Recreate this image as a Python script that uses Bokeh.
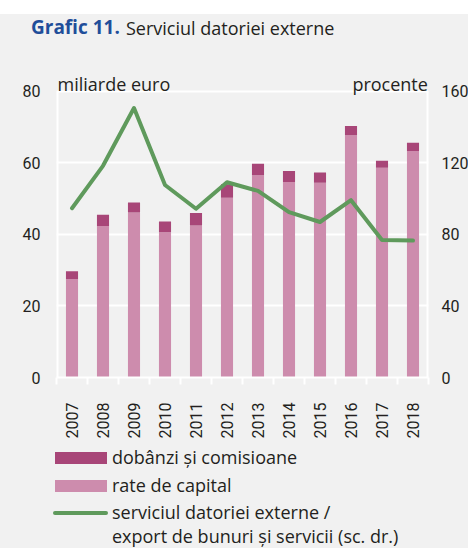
from math import pi
from bokeh.plotting import figure
from bokeh.layouts import column
from bokeh.models import Range1d, LinearAxis, FixedTicker, ColumnDataSource, Div
from bokeh.core.properties import value
from bokeh.embed import file_html
from bokeh.resources import INLINE

# ---- data ----
years = [2007, 2008, 2009, 2010, 2011, 2012, 2013, 2014, 2015, 2016, 2017, 2018]
year_labels = [str(y) for y in years]
capital = [27.5, 42.3, 46.1, 40.6, 42.5, 50.2, 56.5, 54.6, 54.4, 67.7, 58.6, 63.3]
total = [29.7, 45.5, 48.9, 43.6, 46.0, 54.0, 59.7, 57.7, 57.3, 70.3, 60.6, 65.6]
interest = [round(t - c, 2) for t, c in zip(total, capital)]
ratio = [94.6, 118.3, 150.6, 107.6, 94.3, 109.1, 104.3, 92.4, 86.9, 99.1, 76.9, 76.5]
left_ticks = [0, 20, 40, 60, 80]
right_ticks = [0, 40, 80, 120, 160]
left_max, right_max = 80, 160

title_bold = "Grafic 11."
title_text = "Serviciul datoriei externe"
left_unit = "miliarde euro"
right_unit = "procente"
legend_labels = ["dobânzi și comisioane", "rate de capital",
                 "serviciul datoriei externe /", "export de bunuri și servicii (sc. dr.)"]

# ---- style ----
BG = "#f1f1f1"
CAP = "#cd8cad"
INT = "#a84678"
GREEN = "#5f9a5c"
TXT = "#231f20"
BLUE = "#1f4e9a"
FONT = "Open Sans"
NUMF = "Roboto"
W = 468

# ---- title (HTML strip) ----
TH = 45
title_html = (
    f'<div style="position:relative;width:{W}px;height:{TH}px;background:white;overflow:hidden;">'
    f'<div style="position:absolute;left:0;top:14px;width:{W}px;height:{TH-14}px;background:{BG};"></div>'
    f'<span style="position:absolute;left:31px;top:18px;line-height:19px;font-family:\'{FONT}\';'
    f'font-size:19px;font-weight:bold;color:{BLUE};white-space:nowrap;">{title_bold}</span>'
    f'<span style="position:absolute;left:126px;top:19px;line-height:18px;font-family:\'{FONT}\';'
    f'font-size:18px;color:{TXT};white-space:nowrap;">{title_text}</span>'
    '</div>')
title_div = Div(text=title_html, width=W, height=TH, margin=0)

# ---- main chart ----
FW, FH = 372, 332      # frame size (frame extends above the 80 line to hold unit labels)
BOTTOM = 63            # room for the year labels
px80 = 286.3           # px between 0 and 80
ytop = left_max * FH / px80
source = ColumnDataSource(dict(year=years, capital=capital, interest=interest, ratio=ratio))

p = figure(frame_width=FW, frame_height=FH,
           x_range=Range1d(2006.5, 2018.5), y_range=Range1d(0, ytop),
           output_backend="svg", toolbar_location=None, title=None,
           min_border_left=56, min_border_right=40,
           min_border_top=0, min_border_bottom=BOTTOM,
           background_fill_color=BG, border_fill_color=BG,
           outline_line_color=None, margin=0)
p.extra_y_ranges = {"pct": Range1d(0, ytop * right_max / left_max)}

xs, xe = p.x_range.start, p.x_range.end
p.segment(x0=[xs, xe], y0=[0, 0], x1=[xs, xe], y1=[left_max, left_max],
          line_color="white", line_width=4)

bars = p.vbar_stack(["capital", "interest"], x="year", width=0.39, source=source,
                    color=[CAP, INT], line_color=None)
line = p.line("year", "ratio", source=source, y_range_name="pct",
              line_color=GREEN, line_width=4, line_join="round", line_cap="round")

ppu = px80 / left_max
p.text(x=[xs], y=[left_max + 7.7 / ppu], x_offset=1, text=[left_unit],
       text_font=value(FONT), text_font_size="18px", text_color=TXT,
       text_baseline="alphabetic")
p.text(x=[xe - 0.02], y=[left_max + 7.7 / ppu], text=[right_unit],
       text_font=value(FONT), text_font_size="18px", text_color=TXT,
       text_baseline="alphabetic", text_align="right")

# grid
p.xgrid.visible = False
p.ygrid.ticker = FixedTicker(ticks=left_ticks)
p.ygrid.grid_line_color = "white"
p.ygrid.grid_line_width = 2

# bottom axis
xa = p.xaxis[0]
xa.ticker = FixedTicker(ticks=years, minor_ticks=[2006.5 + i for i in range(13)])
xa.major_label_overrides = {y: l for y, l in zip(years, year_labels)}
xa.major_tick_out = 0
xa.major_tick_in = 0
xa.minor_tick_out = 7
xa.minor_tick_in = 0
xa.minor_tick_line_color = "white"
xa.minor_tick_line_width = 2
xa.axis_line_color = "white"
xa.axis_line_width = 2
xa.major_label_orientation = pi / 2
xa.major_label_standoff = 18
xa.major_label_text_font = NUMF
xa.major_label_text_font_size = "16px"
xa.major_label_text_color = TXT

# left axis
ya = p.yaxis[0]
ya.ticker = FixedTicker(ticks=left_ticks)
ya.axis_line_color = None
ya.major_tick_line_color = None
ya.minor_tick_line_color = None
ya.major_tick_out = 0
ya.major_label_standoff = 16
ya.major_label_text_font = NUMF
ya.major_label_text_font_size = "16px"
ya.major_label_text_color = TXT

# right axis
ra = LinearAxis(y_range_name="pct", ticker=FixedTicker(ticks=right_ticks))
ra.axis_line_color = None
ra.major_tick_line_color = None
ra.minor_tick_line_color = None
ra.major_tick_out = 0
ra.major_label_standoff = 13
ra.major_label_text_font = NUMF
ra.major_label_text_font_size = "16px"
ra.major_label_text_color = TXT
p.add_layout(ra, "right")

# ---- legend (HTML strip below the chart) ----
LH = 548 - TH - FH - BOTTOM
txt_style = (f"position:absolute;left:112px;line-height:18px;font-family:'{FONT}';"
             f"font-size:18px;color:{TXT};white-space:nowrap;")
legend_html = (
    f'<div style="position:relative;width:{W}px;height:{LH}px;background:{BG};overflow:hidden;">'
    f'<div style="position:absolute;left:55px;top:11px;width:52px;height:12px;background:{INT};"></div>'
    f'<div style="position:absolute;left:55px;top:39px;width:52px;height:12px;background:{CAP};"></div>'
    f'<div style="position:absolute;left:53px;top:70px;width:55px;height:4px;border-radius:2px;background:{GREEN};"></div>'
    f'<span style="{txt_style}top:7px;">{legend_labels[0]}</span>'
    f'<span style="{txt_style}top:35px;">{legend_labels[1]}</span>'
    f'<span style="{txt_style}top:62px;">{legend_labels[2]}</span>'
    f'<span style="{txt_style}top:86px;">{legend_labels[3]}</span>'
    '</div>')
legend_div = Div(text=legend_html, width=W, height=LH, margin=0)

layout = column(title_div, p, legend_div, spacing=0, styles={"background-color": BG})
open("out.html", "w").write(file_html(layout, INLINE))
